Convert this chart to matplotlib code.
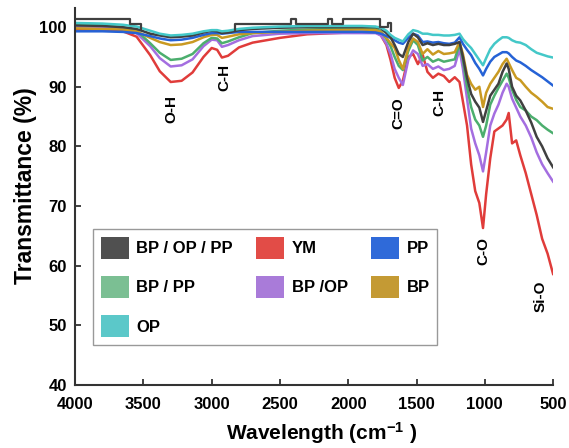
import matplotlib
matplotlib.use("Agg")
import matplotlib.pyplot as plt
from matplotlib.patches import Patch

plt.rcParams["font.family"] = ["Liberation Sans", "DejaVu Sans"]
plt.rcParams["font.weight"] = "bold"
plt.rcParams["mathtext.fontset"] = "custom"
plt.rcParams["mathtext.rm"] = "Liberation Sans:bold"
plt.rcParams["mathtext.it"] = "Liberation Sans:bold"
plt.rcParams["mathtext.bf"] = "Liberation Sans:bold"

# shared wavenumber grid (cm-1)
wavenumber = [4000, 3800, 3650, 3550, 3450, 3380, 3300, 3220, 3140, 3060,
              3000, 2960, 2925, 2880, 2800, 2700, 2500, 2300, 2100, 1900,
              1800, 1760, 1720, 1690, 1660, 1630, 1600, 1560, 1525, 1490,
              1455, 1420, 1380, 1340, 1300, 1260, 1220, 1185, 1160, 1130,
              1100, 1070, 1040, 1013, 990, 960, 930, 900, 870, 840,
              825, 800, 770, 740, 700, 660, 620, 580, 540, 500]

ym = [99.6, 99.5, 99.3, 98.4, 95.3, 92.6, 90.8, 91.0, 92.4, 95.0,
      96.5, 96.2, 94.9, 95.2, 96.6, 97.4, 98.2, 98.8, 99.0, 99.2,
      99.2, 98.6, 97.0, 94.5, 91.5, 89.8, 91.0, 95.0, 95.5, 93.8,
      95.4, 92.5, 91.5, 92.2, 91.8, 90.8, 91.6, 90.8, 87.5, 83.5,
      77.0, 72.5, 70.5, 66.3, 72.0, 78.0, 82.5, 83.0, 83.5, 84.5,
      85.6, 80.5, 81.0, 78.5, 75.5, 72.0, 68.5, 64.5, 62.0, 58.6]

bp_op = [100.0, 99.9, 99.7, 99.0, 96.8, 94.8, 93.4, 93.6, 94.6, 96.8,
         97.9, 97.8, 96.7, 97.0, 97.8, 98.5, 98.9, 99.0, 99.0, 99.0,
         99.0, 98.6, 97.2, 95.5, 93.0, 91.5, 90.3, 94.5, 96.1, 95.5,
         93.5, 93.8, 93.0, 93.4, 92.8, 93.0, 93.5, 96.3, 93.0, 88.0,
         83.0, 80.5, 78.5, 75.8, 79.0, 83.5, 85.5, 87.0, 89.0, 90.5,
         90.0, 88.0, 86.5, 85.0, 83.5, 81.5, 79.0, 77.0, 75.5, 74.1]

bp_pp = [100.4, 100.3, 100.0, 99.4, 97.3, 95.7, 94.5, 94.7, 95.5, 97.3,
         98.2, 98.1, 97.3, 97.6, 98.3, 99.0, 99.4, 99.6, 99.7, 99.8,
         99.7, 99.3, 98.0, 96.8, 95.0, 93.5, 92.8, 96.0, 97.8, 97.0,
         94.4, 95.0, 94.2, 94.6, 94.2, 94.4, 94.6, 97.2, 94.5, 90.0,
         86.6, 84.5, 83.5, 81.6, 83.5, 87.0, 88.5, 89.8, 91.0, 92.2,
         91.5, 89.5, 87.8, 86.6, 86.0, 85.0, 84.4, 83.5, 82.8, 82.2]

bp = [99.8, 99.7, 99.6, 99.3, 98.2, 97.5, 97.0, 97.1, 97.5, 98.3,
      98.7, 98.7, 98.2, 98.4, 98.8, 99.0, 99.2, 99.4, 99.5, 99.6,
      99.5, 99.2, 98.2, 97.3, 96.5, 94.5, 93.0, 96.5, 98.1, 97.5,
      95.5, 96.3, 95.4, 96.0, 95.5, 95.6, 95.8, 97.5, 95.5, 92.0,
      90.5, 89.5, 90.0, 86.6, 89.0, 90.5, 91.5, 92.5, 93.8, 94.7,
      94.0, 92.8, 91.5, 91.1, 90.0, 89.0, 88.3, 87.5, 86.6, 86.3]

pp = [99.3, 99.3, 99.2, 99.0, 98.5, 98.1, 97.8, 97.9, 98.2, 98.7,
      99.0, 99.0, 98.9, 99.0, 99.2, 99.2, 99.2, 99.2, 99.2, 99.2,
      99.1, 98.9, 98.5, 98.2, 97.8, 97.4, 97.2, 98.2, 98.9, 98.6,
      97.5, 97.6, 97.4, 97.5, 97.3, 97.2, 97.4, 98.3, 97.2, 96.2,
      95.3, 94.0, 93.0, 91.9, 93.0, 94.2, 95.0, 95.4, 95.8, 95.8,
      95.6, 95.0, 94.4, 94.1, 93.5, 92.8, 92.2, 91.6, 90.9, 90.2]

op = [100.7, 100.6, 100.4, 100.1, 99.4, 98.9, 98.6, 98.7, 98.9, 99.3,
      99.5, 99.5, 99.3, 99.4, 99.7, 99.9, 100.1, 100.2, 100.2, 100.2,
      100.1, 99.9, 99.4, 98.7, 98.2, 97.9, 97.6, 98.8, 99.5, 99.3,
      98.9, 98.9, 98.7, 98.7, 98.6, 98.6, 98.7, 98.9, 98.0, 97.2,
      96.5, 95.5, 94.5, 93.6, 94.8, 96.3, 97.2, 97.8, 98.3, 98.3,
      98.2, 97.8, 97.5, 97.4, 97.0, 96.3, 95.7, 95.4, 95.1, 94.9]

bp_op_pp = [100.3, 100.2, 100.0, 99.7, 98.9, 98.6, 98.3, 98.4, 98.6, 99.1,
            99.4, 99.3, 99.0, 99.1, 99.5, 99.7, 99.9, 100.0, 100.0, 100.0,
            100.0, 99.8, 99.0, 98.3, 97.0, 95.5, 95.0, 97.5, 98.9, 98.3,
            97.0, 97.3, 97.0, 97.2, 97.0, 97.0, 97.2, 97.5, 95.0, 91.5,
            88.8, 87.5, 86.5, 84.1, 86.0, 88.5, 89.5, 90.5, 92.5, 93.9,
            93.0, 90.0, 88.5, 87.7, 86.0, 84.0, 81.6, 80.0, 78.0, 76.5]

# stepped upper trace of the BP / OP / PP spectrum (nan = gap where it sinks into the data)
nan = float("nan")
bp_op_pp_step_wn = [4000, 3600, 3600, 3520, 3520, 3520, 2830, 2830, 2420, 2420,
                    2380, 2380, 2150, 2150, 2120, 2120, 2040, 2040, 1770, 1770,
                    1710, 1710, 1685, 1685]
bp_op_pp_step_t = [101.3, 101.3, 100.6, 100.6, 99.6, nan, 99.4, 100.5, 100.5, 101.4,
                   101.4, 100.5, 100.5, 101.4, 101.4, 100.5, 100.5, 101.4, 101.4, 100.0,
                   100.0, 100.7, 100.7, 99.3]

series_names = ["BP / OP / PP", "YM", "PP", "BP / PP", "BP /OP", "BP", "OP"]
series_values = [bp_op_pp, ym, pp, bp_pp, bp_op, bp, op]
line_colors = ["#404040", "#e03c3a", "#2562d6", "#4cae6e", "#a46ee0", "#c99a22", "#44c8c8"]
legend_colors = ["#505050", "#e24c47", "#2f6ad9", "#7bbf93", "#a97bd9", "#c49a34", "#5bc8c9"]

band_labels = ["O-H", "C-H", "C=O", "C-H", "C-O", "Si-O"]
band_wn = [3297, 2909, 1635, 1335, 1013, 588]
band_t = [86.2, 91.6, 85.6, 87.4, 62.4, 54.9]

fig = plt.figure(figsize=(5.69, 4.48), dpi=100)
ax = fig.add_axes([0.132, 0.141, 0.840, 0.841])

draw_order = [1, 4, 3, 5, 2, 0, 6]
for i in draw_order:
    ax.plot(wavenumber, series_values[i], color=line_colors[i], lw=1.8)
ax.plot(bp_op_pp_step_wn, bp_op_pp_step_t, color=line_colors[0], lw=1.6)

for lab, x, y in zip(band_labels, band_wn, band_t):
    ax.text(x, y, lab, rotation=90, ha="center", va="center",
            fontsize=11, fontweight="bold", color="black")

ax.set_xlim(4000, 500)
ax.set_ylim(40, 103.2)
ax.set_xticks(range(4000, 499, -500))
ax.set_yticks(range(40, 101, 10))
ax.tick_params(direction="in", length=4, width=1.3, color="#333333",
               labelsize=12)
ax.tick_params(axis="x", pad=9)
ax.tick_params(axis="y", pad=6)
for s in ["top", "right"]:
    ax.spines[s].set_visible(False)
for s in ["left", "bottom"]:
    ax.spines[s].set_linewidth(1.5)
    ax.spines[s].set_color("#333333")

ax.set_ylabel("Transmittance (%)", fontsize=16.5, fontweight="bold")
ax.yaxis.set_label_coords(-0.08, 0.53)
ax.set_xlabel("Wavelength (cm$^{-1}$ )", fontsize=15, fontweight="bold")
ax.xaxis.set_label_coords(0.515, -0.093)

order = [0, 3, 6, 1, 4, 2, 5]
handles = [Patch(facecolor=legend_colors[i], edgecolor="none") for i in order]
labels = [series_names[i] for i in order]
leg = ax.legend(handles, labels, ncol=3, loc="lower left",
                bbox_to_anchor=(0.0377, 0.106, 0.72, 0.355), mode="expand",
                borderaxespad=0, fontsize=12, handlelength=1.7, handleheight=1.7,
                labelspacing=1.0, handletextpad=0.45, borderpad=0.45,
                columnspacing=1.0, fancybox=False, framealpha=1)
leg.get_frame().set_edgecolor("#999999")
leg.get_frame().set_linewidth(1.0)

fig.savefig("out.png", dpi=100)
